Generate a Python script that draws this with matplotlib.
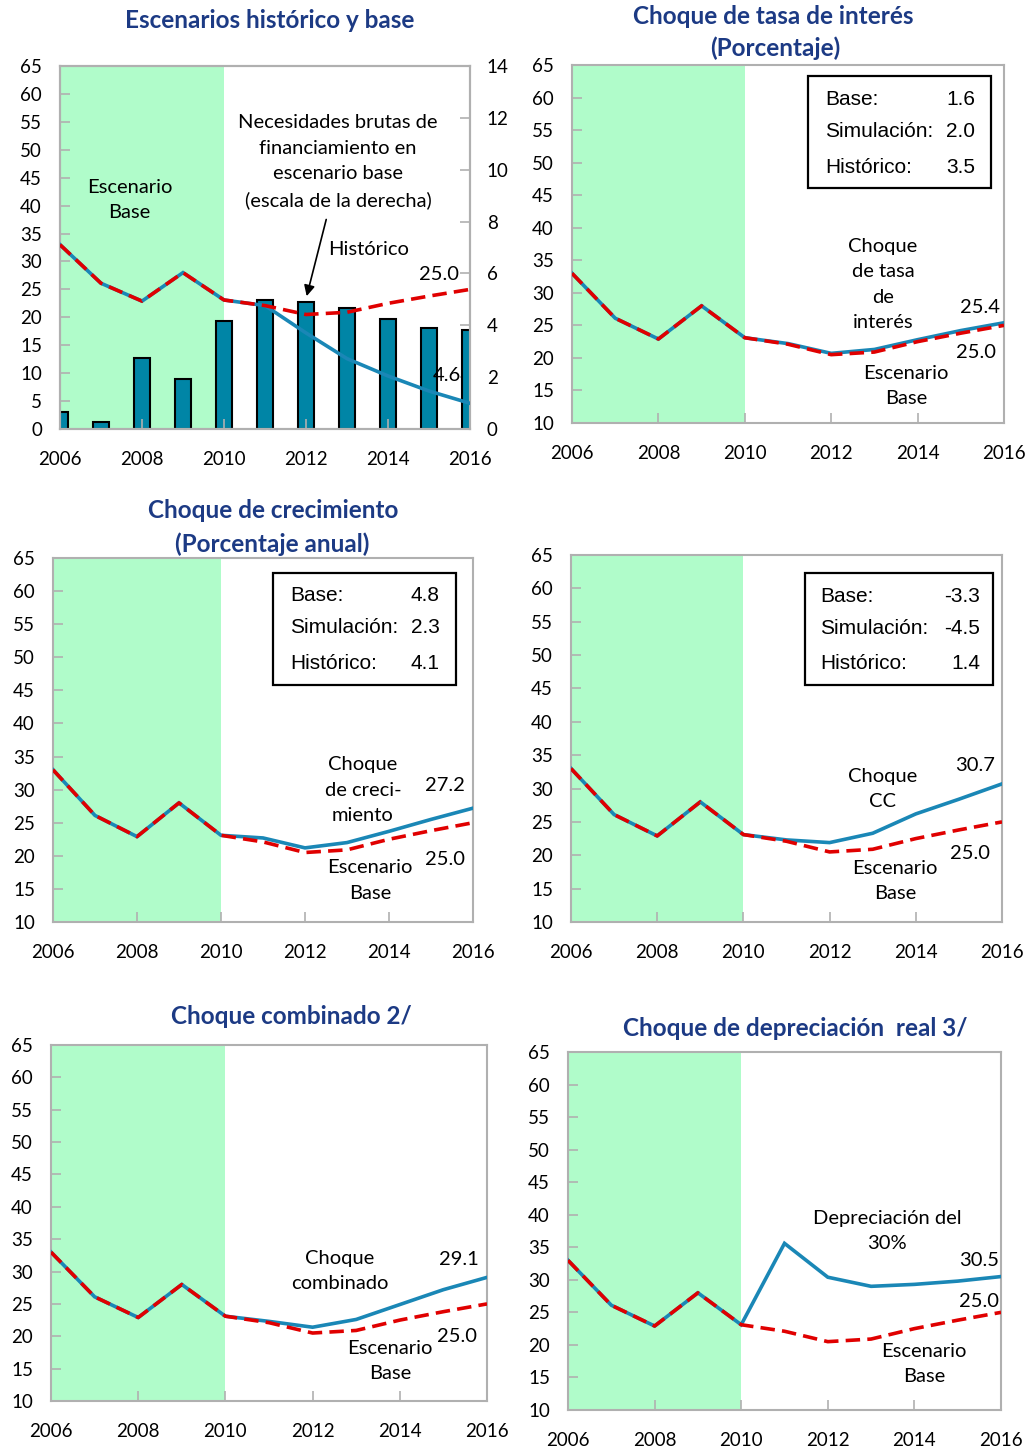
import numpy as np
import matplotlib
matplotlib.use('Agg')
import matplotlib.pyplot as plt
from matplotlib.patches import Rectangle

plt.rcParams['font.family'] = ['Lato', 'DejaVu Sans']

years = np.arange(2006, 2017)
tick_years = np.arange(2006, 2017, 2)

# Deuda en % del PIB
base = [33.0, 26.1, 22.9, 28.0, 23.1, 22.1, 20.5, 20.9, 22.5, 23.8, 25.0]
historico = [33.0, 26.1, 22.9, 28.0, 23.1, 22.1, 17.2, 12.6, 9.5, 6.8, 4.6]
necesidades = [0.64, 0.28, 2.73, 1.93, 4.16, 4.96, 4.90, 4.66, 4.24, 3.89, 3.80]

tasa_interes = [33.0, 26.1, 22.9, 28.0, 23.1, 22.2, 20.7, 21.3, 22.8, 24.2, 25.4]
crecimiento = [33.0, 26.1, 22.9, 28.0, 23.1, 22.7, 21.2, 22.0, 23.7, 25.5, 27.2]
cuenta_corriente = [33.0, 26.1, 22.9, 28.0, 23.1, 22.3, 21.9, 23.3, 26.2, 28.4, 30.7]
combinado = [33.0, 26.1, 22.9, 28.0, 23.1, 22.3, 21.4, 22.6, 24.9, 27.2, 29.1]
depreciacion = [33.0, 26.1, 22.9, 28.0, 23.1, 35.6, 30.4, 29.0, 29.3, 29.8, 30.5]

box_labels = ['Base:', 'Simulación:', 'Histórico:']
box_tasa = ['1.6', '2.0', '3.5']
box_crec = ['4.8', '2.3', '4.1']
box_cc = ['-3.3', '-4.5', '1.4']

BLUE = '#1a87b6'
RED = '#e00000'
BAR = '#0085a6'
GREEN = '#b0fcca'
SPINE = '#b0b0b0'
NAVY = '#1c3a84'
FS = 13.5      # ticks
FA = 14.5      # anotaciones
FB = 15        # recuadros

W, H = 1031, 1449
fig = plt.figure(figsize=(W / 100, H / 100), dpi=100)


def make_axes(left, right, top, bottom):
    return fig.add_axes([left / W, 1 - bottom / H, (right - left) / W, (bottom - top) / H])


def style(ax, ymin):
    ax.set_xlim(2006, 2016)
    ax.set_ylim(ymin, 65)
    ax.set_xticks(tick_years)
    ax.set_yticks(np.arange(ymin, 66, 5))
    for s in ax.spines.values():
        s.set_color(SPINE)
        s.set_linewidth(1.5)
    ax.tick_params(axis='y', direction='in', length=7, width=1.2, color=SPINE,
                   labelsize=FS, pad=13)
    ax.tick_params(axis='x', direction='in', length=7, width=1.2, color=SPINE,
                   labelsize=FS, pad=16)


def draw_lines(ax, shock, shade=True):
    if shade:
        ax.axvspan(2006, 2010, color=GREEN, lw=0, zorder=0)
    ax.plot(years, shock, color=BLUE, lw=2.6, zorder=3, solid_joinstyle='miter')
    ax.plot(years, base, color=RED, lw=2.6, dashes=(4, 2), zorder=4)


def add_box(ax, x0, x1, y0, y1, rows_y, lab_x, val_x, values):
    ax.add_patch(Rectangle((x0, y0), x1 - x0, y1 - y0, transform=ax.transAxes,
                           fill=True, facecolor='white', edgecolor='black',
                           lw=1.6, zorder=5))
    for lab, val, yy in zip(box_labels, values, rows_y):
        ax.text(lab_x, yy, lab, transform=ax.transAxes, fontsize=FB,
                family='Liberation Sans', va='center', ha='left', zorder=6)
        ax.text(val_x, yy, val, transform=ax.transAxes, fontsize=FB,
                family='Liberation Sans', va='center', ha='right', zorder=6)


def label(ax, x, y, s):
    ax.text(x, y, s, fontsize=FA, ha='center', va='center', linespacing=1.6, zorder=6)


def title(x, y, s):
    fig.text(x / W, 1 - y / H, s, fontsize=17.5, fontweight='bold', color=NAVY,
             ha='center', va='center')


# Escenarios histórico y base
ax1 = make_axes(60, 470, 66, 429)
ax1b = ax1.twinx()
ax1.set_zorder(ax1b.get_zorder() + 1)
ax1.patch.set_visible(False)
ax1b.axvspan(2006, 2010, color=GREEN, lw=0, zorder=0)
ax1b.bar(years, necesidades, width=0.37, color=BAR, edgecolor='black', lw=1.5, zorder=2)
ax1b.set_ylim(0, 14)
ax1b.set_yticks(np.arange(0, 15, 2))
ax1b.tick_params(axis='y', direction='in', length=7, width=1.2, color=SPINE,
                 labelsize=FS, pad=12)
style(ax1, 0)
for s in ax1b.spines.values():
    s.set_color(SPINE)
    s.set_linewidth(1.5)
draw_lines(ax1, historico, shade=False)
label(ax1, 2007.7, 41.0, 'Escenario\nBase')
label(ax1, 2012.78, 47.9, 'Necesidades brutas de\nfinanciamiento en\nescenario base\n(escala de la derecha)')
ax1.annotate('', xy=(2012, 23.3), xytext=(2012.51, 38.0),
             arrowprops=dict(arrowstyle='-|>', color='black', lw=1.2, mutation_scale=16))
ax1.text(2012.54, 32.2, 'Histórico', fontsize=FA, ha='left', va='center')
ax1.text(2015.73, 27.6, f'{base[-1]:.1f}', fontsize=FA, ha='right', va='center')
ax1.text(2015.44, 9.5, f'{historico[-1]:.1f}', fontsize=FA, ha='center', va='center')
title(270, 20, 'Escenarios histórico y base')

# Choque de tasa de interés
ax2 = make_axes(572, 1004, 65, 423)
style(ax2, 10)
draw_lines(ax2, tasa_interes)
add_box(ax2, 0.546, 0.97, 0.656, 0.969, [0.905, 0.813, 0.715], 0.586, 0.933, box_tasa)
label(ax2, 2013.2, 31.3, 'Choque\nde tasa\nde\ninterés')
label(ax2, 2015.44, 27.8, f'{tasa_interes[-1]:.1f}')
label(ax2, 2015.35, 20.9, f'{base[-1]:.1f}')
label(ax2, 2013.73, 15.7, 'Escenario\nBase')
title(773, 16, 'Choque de tasa de interés')
title(775, 48, '(Porcentaje)')

# Choque de crecimiento
ax3 = make_axes(53, 473, 558, 922)
style(ax3, 10)
draw_lines(ax3, crecimiento)
add_box(ax3, 0.524, 0.96, 0.651, 0.959, [0.896, 0.808, 0.709], 0.564, 0.921, box_crec)
label(ax3, 2013.38, 29.9, 'Choque\nde creci-\nmiento')
label(ax3, 2015.33, 30.7, f'{crecimiento[-1]:.1f}')
label(ax3, 2015.33, 19.4, f'{base[-1]:.1f}')
label(ax3, 2013.55, 16.3, 'Escenario\nBase')
title(273, 510, 'Choque de crecimiento')
title(272, 544, '(Porcentaje anual)')

# Choque de cuenta corriente
ax4 = make_axes(571, 1002, 555, 922)
style(ax4, 10)
draw_lines(ax4, cuenta_corriente)
add_box(ax4, 0.543, 0.979, 0.646, 0.951, [0.888, 0.801, 0.703], 0.578, 0.949, box_cc)
label(ax4, 2013.22, 29.9, 'Choque\nCC')
label(ax4, 2015.37, 33.4, f'{cuenta_corriente[-1]:.1f}')
label(ax4, 2015.26, 20.3, f'{base[-1]:.1f}')
label(ax4, 2013.52, 16.1, 'Escenario\nBase')

# Choque combinado
ax5 = make_axes(51, 487, 1045, 1401)
style(ax5, 10)
draw_lines(ax5, combinado)
label(ax5, 2012.63, 30.1, 'Choque\ncombinado')
label(ax5, 2015.36, 31.8, f'{combinado[-1]:.1f}')
label(ax5, 2015.31, 20.0, f'{base[-1]:.1f}')
label(ax5, 2013.78, 16.2, 'Escenario\nBase')
title(291, 1016, 'Choque combinado 2/')

# Choque de depreciación real
ax6 = make_axes(568, 1001, 1052, 1410)
style(ax6, 10)
draw_lines(ax6, depreciacion)
label(ax6, 2013.37, 37.5, 'Depreciación del\n30%')
label(ax6, 2015.49, 32.9, f'{depreciacion[-1]:.1f}')
label(ax6, 2015.49, 26.6, f'{base[-1]:.1f}')
label(ax6, 2014.22, 17.1, 'Escenario\nBase')
title(795, 1028, 'Choque de depreciación  real 3/')

fig.savefig('out.png', dpi=100)
